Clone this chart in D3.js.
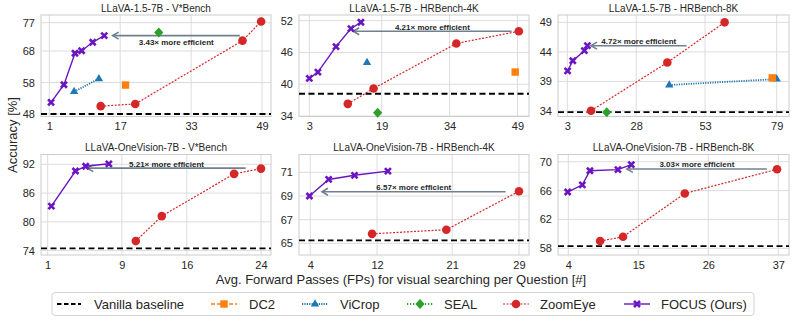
<!DOCTYPE html>
<html>
<head>
<meta charset="utf-8">
<script src="https://d3js.org/d3.v7.min.js"></script>
<style>
body { margin: 0; background: #fff; }
svg text { font-family: "Liberation Sans", Arial, sans-serif; fill: #262626; }
</style>
</head>
<body>
<svg id="chart" width="793" height="321"></svg>
<script>
/// values (one inner list per panel)
const titles = [
  "LLaVA-1.5-7B - V*Bench", "LLaVA-1.5-7B - HRBench-4K", "LLaVA-1.5-7B - HRBench-8K",
  "LLaVA-OneVision-7B - V*Bench", "LLaVA-OneVision-7B - HRBench-4K", "LLaVA-OneVision-7B - HRBench-8K"
];
const baselineAcc = [48.0, 38.2, 33.8, 74.5, 65.25, 58.3];

const focusFP  = [[1.4, 4.3, 6.8, 8.3, 10.8, 13.4], [3.0, 4.9, 8.9, 12.2, 14.4], [3.1, 5.0, 9.2, 10.3],
                  [1.4, 4.0, 5.1, 7.6], [3.9, 6.2, 9.3, 13.3], [3.9, 6.2, 7.4, 11.8, 13.9]];
const focusAcc = [[51.7, 57.3, 67.3, 68.1, 70.8, 72.9], [41.1, 42.3, 47.1, 50.5, 51.7], [40.8, 42.5, 44.2, 45.05],
                  [83.3, 90.6, 91.6, 92.1], [69.0, 70.4, 70.75, 71.1], [65.8, 66.8, 68.75, 68.9, 69.6]];

const zoomeyeFP  = [[12.6, 20.4, 44.6, 48.8], [11.5, 17.2, 35.5, 49.3], [11.6, 39.3, 60.1],
                    [10.5, 13.3, 21.1, 24.0], [11.4, 20.3, 29.0], [9.0, 12.6, 22.3, 36.8]];
const zoomeyeAcc = [[50.5, 51.2, 71.3, 77.4], [36.3, 39.2, 47.7, 50.0], [34.05, 42.2, 49.0],
                    [76.0, 81.2, 90.0, 91.1], [65.8, 66.15, 69.4], [59.0, 59.6, 65.6, 68.95]];

const vicropFP  = [[6.6, 12.2], [15.75], [40.0, 79.0], [], [], []];
const vicropAcc = [[55.1, 59.2], [44.1], [38.4, 39.4], [], [], []];
const dc2FP   = [[18.2], [48.5], [77.4], [], [], []];
const dc2Acc  = [[57.2], [42.3], [39.6], [], [], []];
const sealFP  = [[25.7], [18.1], [17.3], [], [], []];
const sealAcc = [[73.9], [34.6], [33.8], [], [], []];

const speedup   = ["3.43", "4.21", "4.72", "5.21", "6.57", "3.03"];
const arrowFrom = [44.0, 47.7, 46.3, 22.35, 27.4, 35.2];
const arrowTo   = [15.3, 12.7, 11.6, 5.27, 5.4, 13.2];
const arrowAcc  = [72.9, 50.0, 45.05, 91.2, 69.36, 69.0];

const xTicks = [[1, 17, 33, 49], [3, 19, 34, 49], [3, 28, 53, 79], [1, 9, 16, 24], [4, 12, 21, 29], [4, 15, 26, 37]];
const yTicks = [[48, 58, 68, 77], [34, 40, 46, 52], [34, 39, 44, 49], [74, 80, 86, 92], [65, 67, 69, 71], [58, 62, 66, 70]];

const legendNames = ["Vanilla baseline", "DC2", "ViCrop", "SEAL", "ZoomEye", "FOCUS (Ours)"];

/// layout
const cols = [[41, 271], [299, 529], [558, 789]];
const rows = [[15, 116.5], [154.5, 255]];
const xDomains = [[-0.87, 51.03], [0.72, 51.55], [-0.38, 83.47], [0.28, 25.08], [2.65, 30.2], [2.38, 38.68]];
const yDomains = [[47.21, 79.45], [33.91, 53.07], [33.07, 50.24], [73.1, 94.04], [64.01, 72.51], [57.07, 71.0]];
const labelBelow = [true, false, false, false, false, false];

const C = {base: "#000000", dc2: "#ff7f0e", vicrop: "#1f77b4", seal: "#2ca02c", zoomeye: "#d62728", focus: "#6a14c2"};

const svg = d3.select("#chart");

/// marker helpers
function marker(g, kind, x, y) {
  if (kind == "zoomeye") {
    g.append("circle").attr("cx", x).attr("cy", y).attr("r", 4.3).attr("fill", C.zoomeye);
  } else if (kind == "focus") {
    g.append("path").attr("d", "M-3,-3L3,3M-3,3L3,-3")
      .attr("transform", "translate(" + x + "," + y + ")")
      .attr("stroke", C.focus).attr("stroke-width", 2.6).attr("fill", "none");
  } else if (kind == "vicrop") {
    g.append("path").attr("d", d3.symbol(d3.symbolTriangle, 30)())
      .attr("transform", "translate(" + x + "," + y + ")").attr("fill", C.vicrop);
  } else if (kind == "dc2") {
    g.append("rect").attr("x", x - 3.7).attr("y", y - 3.7).attr("width", 7.4).attr("height", 7.4).attr("fill", C.dc2);
  } else if (kind == "seal") {
    g.append("path").attr("d", "M0,-5L4.6,0L0,5L-4.6,0Z")
      .attr("transform", "translate(" + x + "," + y + ")").attr("fill", C.seal);
  }
}
const lineStyle = {
  dc2:     {w: 1.5, dash: "4,2"},
  vicrop:  {w: 1.8, dash: "1.2,1.2"},
  seal:    {w: 1.8, dash: "1.2,1.8"},
  zoomeye: {w: 1.2, dash: "2,1.5"},
  focus:   {w: 1.4, dash: null}
};

/// panels
titles.forEach(function(title, i) {
  const c = cols[i % 3], r = rows[Math.floor(i / 3)];
  const xs = d3.scaleLinear().domain(xDomains[i]).range(c);
  const ys = d3.scaleLinear().domain(yDomains[i]).range([r[1], r[0]]);
  const g = svg.append("g");

  // grid
  g.selectAll(".gx").data(xTicks[i]).enter().append("line")
    .attr("x1", d => xs(d)).attr("x2", d => xs(d)).attr("y1", r[0]).attr("y2", r[1])
    .attr("stroke", "#dcdcdc").attr("stroke-width", 1);
  g.selectAll(".gy").data(yTicks[i]).enter().append("line")
    .attr("y1", d => ys(d)).attr("y2", d => ys(d)).attr("x1", c[0]).attr("x2", c[1])
    .attr("stroke", "#dcdcdc").attr("stroke-width", 1);
  g.append("rect").attr("x", c[0]).attr("y", r[0]).attr("width", c[1] - c[0]).attr("height", r[1] - r[0])
    .attr("fill", "none").attr("stroke", "#cccccc").attr("stroke-width", 1);

  // axes (labels only, no tick marks)
  const ax = g.append("g").attr("transform", "translate(0," + r[1] + ")")
    .call(d3.axisBottom(xs).tickValues(xTicks[i]).tickSize(0).tickPadding(6).tickFormat(d3.format("d")));
  const ay = g.append("g").attr("transform", "translate(" + c[0] + ",0)")
    .call(d3.axisLeft(ys).tickValues(yTicks[i]).tickSize(0).tickPadding(6).tickFormat(d3.format("d")));
  [ax, ay].forEach(function(a) {
    a.select(".domain").remove();
    a.selectAll("text").style("font-size", "11px").style("font-family", "Liberation Sans, Arial, sans-serif").attr("fill", "#262626");
  });

  // title
  g.append("text").attr("x", (c[0] + c[1]) / 2).attr("y", r[0] - 3.5)
    .attr("text-anchor", "middle").style("font-size", "10px").text(title);

  // vanilla baseline
  g.append("line").attr("x1", c[0]).attr("x2", c[1]).attr("y1", ys(baselineAcc[i])).attr("y2", ys(baselineAcc[i]))
    .attr("stroke", C.base).attr("stroke-width", 1.8).attr("stroke-dasharray", "6,3.5");

  // efficiency arrow
  const ay0 = ys(arrowAcc[i]), xa = xs(arrowFrom[i]), xb = xs(arrowTo[i]);
  g.append("line").attr("x1", xa).attr("x2", xb).attr("y1", ay0).attr("y2", ay0)
    .attr("stroke", "#708090").attr("stroke-width", 1.6);
  g.append("path").attr("d", "M" + (xb + 6) + "," + (ay0 - 3.5) + "L" + xb + "," + ay0 + "L" + (xb + 6) + "," + (ay0 + 3.5))
    .attr("stroke", "#708090").attr("stroke-width", 1.6).attr("fill", "none");
  g.append("text").attr("x", (xa + xb) / 2).attr("y", labelBelow[i] ? ay0 + 9.5 : ay0 - 1.5)
    .attr("text-anchor", "middle").style("font-size", "8px").style("font-weight", "bold").attr("fill", "#222")
    .text(speedup[i] + "\u00d7 more efficient");

  // series
  const series = [
    ["vicrop", vicropFP[i], vicropAcc[i]],
    ["dc2", dc2FP[i], dc2Acc[i]],
    ["seal", sealFP[i], sealAcc[i]],
    ["zoomeye", zoomeyeFP[i], zoomeyeAcc[i]],
    ["focus", focusFP[i], focusAcc[i]]
  ];
  series.forEach(function(s) {
    const kind = s[0], fx = s[1], fy = s[2];
    if (fx.length == 0) return;
    const pts = fx.map((v, k) => [xs(v), ys(fy[k])]);
    if (pts.length > 1) {
      g.append("path").attr("d", d3.line()(pts)).attr("fill", "none")
        .attr("stroke", C[kind]).attr("stroke-width", lineStyle[kind].w)
        .attr("stroke-dasharray", lineStyle[kind].dash);
    }
    pts.forEach(p => marker(g, kind, p[0], p[1]));
  });
});

/// axis titles
svg.append("text").attr("x", 401).attr("y", 283.5).attr("text-anchor", "middle")
  .style("font-size", "13px").text("Avg. Forward Passes (FPs) for visual searching per Question [#]");
svg.append("text").attr("transform", "translate(17,135) rotate(-90)").attr("text-anchor", "middle")
  .style("font-size", "13px").text("Accuracy [%]");

/// legend
const legKinds = ["base", "dc2", "vicrop", "seal", "zoomeye", "focus"];
const legHandleX = [57, 211, 302, 407, 503, 624];
const legTextX = [94, 249, 340, 444, 540, 661];
const legY = 304;
const leg = svg.append("g");
leg.append("rect").attr("x", 52).attr("y", 292.5).attr("width", 702).attr("height", 23).attr("rx", 3)
  .attr("fill", "#fff").attr("stroke", "#d4d4d4").attr("stroke-width", 1);
legKinds.forEach(function(k, i) {
  const x0 = legHandleX[i], x1 = x0 + 26;
  if (k == "base") {
    leg.append("line").attr("x1", x0).attr("x2", x1 - 2).attr("y1", legY).attr("y2", legY)
      .attr("stroke", "#000").attr("stroke-width", 1.8).attr("stroke-dasharray", "4.5,2.5");
  } else {
    leg.append("line").attr("x1", x0).attr("x2", x1).attr("y1", legY).attr("y2", legY)
      .attr("stroke", C[k]).attr("stroke-width", lineStyle[k].w).attr("stroke-dasharray", lineStyle[k].dash);
    marker(leg, k, (x0 + x1) / 2, legY);
  }
  leg.append("text").attr("x", legTextX[i]).attr("y", legY + 4.5).style("font-size", "13px").text(legendNames[i]);
});
</script>
</body>
</html>
